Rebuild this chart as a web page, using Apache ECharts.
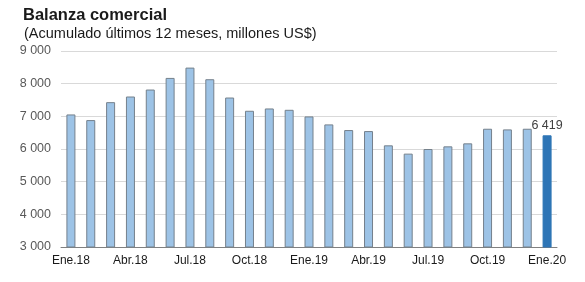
<!DOCTYPE html>
<html><head><meta charset="utf-8">
<script src="https://cdn.jsdelivr.net/npm/echarts@6/dist/echarts.min.js"></script>
<style>html,body{margin:0;padding:0;background:#fff}#c{width:585px;height:282px}</style>
</head><body><div id="c"></div>
<script>
var categories = ["Ene.18","Feb.18","Mar.18","Abr.18","May.18","Jun.18","Jul.18","Ago.18","Sep.18","Oct.18","Nov.18","Dic.18",
  "Ene.19","Feb.19","Mar.19","Abr.19","May.19","Jun.19","Jul.19","Ago.19","Sep.19","Oct.19","Nov.19","Dic.19","Ene.20"];
var values = [7058,6885,7434,7607,7820,8176,8492,8136,7576,7170,7241,7200,
  6997,6753,6580,6549,6112,5858,6000,6081,6173,6620,6600,6620,6419];
var yTicks = [3000,4000,5000,6000,7000,8000,9000];
var title = "Balanza comercial";
var subtitle = "(Acumulado últimos 12 meses, millones US$)";

function fmt(v){ return String(v).replace(/\B(?=(\d{3})+(?!\d))/g, " "); }

var chart = echarts.init(document.getElementById('c'), null, {renderer:'canvas'});
var last = values.length - 1;
chart.setOption({
  animation:false,
  title:[
    {text:title, left:18, top:2, textStyle:{fontFamily:'Arial, Liberation Sans',fontSize:16.5,fontWeight:'bold',color:'#1a1a1a'}},
    {text:subtitle, left:19, top:21, textStyle:{fontFamily:'Arial, Liberation Sans',fontSize:14.5,fontWeight:'normal',color:'#1a1a1a'}}
  ],
  grid:{left:61, right:28, top:51, bottom:35, containLabel:false},
  xAxis:{type:'category', data:categories,
    axisLine:{lineStyle:{color:'#808080',width:1}},
    axisTick:{show:false},
    axisLabel:{interval:2, color:'#1a1a1a', fontFamily:'Arial, Liberation Sans', fontSize:12, margin:8}
  },
  yAxis:{type:'value', min:yTicks[0], max:yTicks[yTicks.length-1], interval:1000,
    axisLine:{show:false}, axisTick:{show:false},
    splitLine:{lineStyle:{color:'#d9d9d9',width:1}},
    axisLabel:{color:'#595959', fontFamily:'Arial, Liberation Sans', fontSize:12.5, margin:10, formatter:fmt}
  },
  series:[{
    type:'bar', barWidth:9,
    data: values.map(function(v,i){
      return i===last ? {value:v, itemStyle:{color:'#2e75b6', borderColor:'#2e75b6'},
        label:{show:true, position:'top', distance:3, formatter:function(p){return fmt(p.value);}, color:'#404040', fontFamily:'Arial, Liberation Sans', fontSize:12.5}}
      : v;
    }),
    itemStyle:{color:'#9dc3e6', borderColor:'#75818c', borderWidth:1}
  }]
});
</script></body></html>
